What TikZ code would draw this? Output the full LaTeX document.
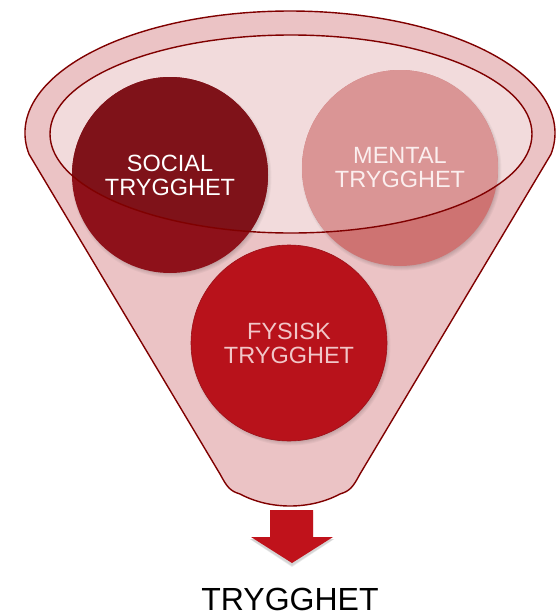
\documentclass[tikz,border=0pt]{standalone}
\usepackage{fontspec}
\setmainfont{Liberation Sans}
\definecolor{funnelFill}{HTML}{EBC3C5}
\definecolor{innerFill}{HTML}{F2DBDC}
\definecolor{lineRed}{HTML}{800000}
\definecolor{socialOut}{HTML}{8E111A}
\definecolor{socialIn}{HTML}{7F1219}
\definecolor{mentalOut}{HTML}{CE7372}
\definecolor{mentalIn}{HTML}{DA9595}
\definecolor{fysiskFill}{HTML}{B8121B}
\definecolor{arrowFill}{HTML}{C0121B}
\definecolor{fysiskText}{HTML}{F1C6C8}
\definecolor{mentalText}{HTML}{FBEEEE}
\begin{document}
\begin{tikzpicture}[x=1pt,y=-1pt,
  outline/.style={draw=lineRed, line width=1.4pt},
  bubble/.style={circle, minimum size=196pt, inner sep=0pt},
  bubbletext/.style={align=center, font=\fontsize{23.5}{24}\selectfont, inner sep=0pt},
  shadowring/.style={fill=black, opacity=0.035}
]
\useasboundingbox (0,0) rectangle (557,616);

% funnel body
\path[fill=funnelFill, outline]
  (29.03,154.2) arc[start angle=170, end angle=370, x radius=265, y radius=122]
  -- (360,474) .. controls (353,487) and (350,491) .. (340,494)
  .. controls (310,510) and (270,510) .. (240,494)
  .. controls (230,491) and (227,487) .. (220,474) -- cycle;

% inner ellipse fill
\fill[innerFill] (291,134) ellipse [x radius=241, y radius=99];

% centres
\coordinate (cs) at (170,175);
\coordinate (cm) at (400,168);
\coordinate (cf) at (289,343);

% soft shadows
\foreach \c in {cs,cm,cf}{
  \foreach \k in {1,...,5}{
    \fill[shadowring] ([shift={(1.5,2.5)}]\c) circle ({95+\k});
  }
}

% circles
\node[bubble, fill=socialOut] (social) at (cs) {};
\node[bubble, fill=mentalOut] (mental) at (cm) {};
\node[bubble, fill=fysiskFill, draw=fysiskFill!85!black, line width=0.6pt] (fysisk) at (cf) {};

% parts of circles inside the inner ellipse
\begin{scope}
  \clip (291,134) ellipse [x radius=241, y radius=99];
  \fill[socialIn] (social.center) circle (98);
  \fill[mentalIn] (mental.center) circle (98);
\end{scope}

% inner ellipse outline
\draw[outline] (291,134) ellipse [x radius=241, y radius=99];

% labels
\node[bubbletext, text=white] (socialtxt) at (social.center) {SOCIAL\\TRYGGHET};
\node[bubbletext, text=mentalText] (mentaltxt) at (mental.center) {MENTAL\\TRYGGHET};
\node[bubbletext, text=fysiskText] (fysisktxt) at (fysisk.center) {FYSISK\\TRYGGHET};

% block arrow with shadow
\foreach \k in {1,2,3}{
  \fill[black, opacity=0.06]
    (270,512) -- (313,512) -- (313,539) -- (333+\k*0.5,539) -- (292,565+\k*0.7) -- (251-\k*0.5,539) -- (270,539) -- cycle;
}
\fill[arrowFill] (270,510) -- (313,510) -- (313,537) -- (333,537) -- (292,563) -- (251,537) -- (270,537) -- cycle;

% result text
\node[anchor=base, inner sep=0pt, font=\fontsize{32}{38}\selectfont] (result) at (290,610) {TRYGGHET};
\end{tikzpicture}
\end{document}
